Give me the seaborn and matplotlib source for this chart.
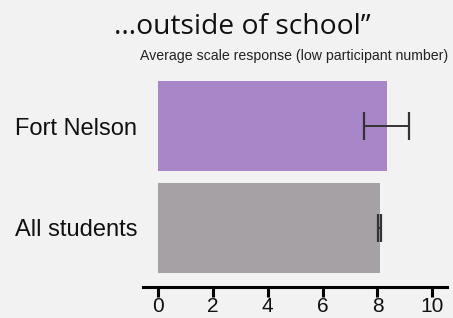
import matplotlib
matplotlib.use("Agg")
import matplotlib.pyplot as plt
import seaborn as sns
import pandas as pd

categories = ["Fort Nelson", "All students"]
means = [8.33, 8.08]
errors = [0.82, 0.05]
colors = ["#a886c8", "#a6a1a5"]
xticks = [0, 2, 4, 6, 8, 10]
title = "\u2026outside of school\u201d"
subtitle = "Average scale response (low participant number)"

sns.set_theme(style="white")
plt.rcParams['font.family'] = ['Liberation Sans', 'DejaVu Sans']

df = pd.DataFrame({"group": categories, "mean": means})

fig = plt.figure(figsize=(4.53, 3.18), dpi=100, facecolor="#f2f2f2")
ax = fig.add_axes([0.315, 0.0965, 0.671, 0.668])
ax.set_facecolor("#f2f2f2")

sns.barplot(data=df, x="mean", y="group", hue="group", palette=colors,
            order=categories, width=0.89, errorbar=None, legend=False,
            saturation=1, ax=ax, edgecolor="none")

ax.errorbar(means, list(range(len(categories))), xerr=errors, fmt="none",
            ecolor="#333333", elinewidth=1.4, capsize=10, capthick=1.6)

ax.set_xlim(-0.55, 10.52)
ax.set_ylim(1.59, -0.51)
ax.set_xticks(xticks)
ax.set_xticklabels([str(t) for t in xticks], fontsize=15)
ax.tick_params(axis="x", bottom=True, length=7, width=2.2, color="black",
               pad=0, labelcolor="#111111")
ax.tick_params(axis="y", left=False, length=0, pad=4, labelsize=17, labelcolor="#111111")
ax.set_xlabel("")
ax.set_ylabel("")
for s in ["top", "right", "left"]:
    ax.spines[s].set_visible(False)
ax.spines["bottom"].set_linewidth(2.2)
ax.spines["bottom"].set_color("black")

fig.text(242.5 / 453, 1 - 33.5 / 318, title, ha="center", va="baseline",
         fontsize=20.3, family=["Open Sans", "DejaVu Sans"], color="#111111")
fig.text(294 / 453, 1 - 56 / 318, subtitle, ha="center", va="center",
         fontsize=10.2, color="#222222")

fig.savefig("out.png", dpi=100, facecolor=fig.get_facecolor())
